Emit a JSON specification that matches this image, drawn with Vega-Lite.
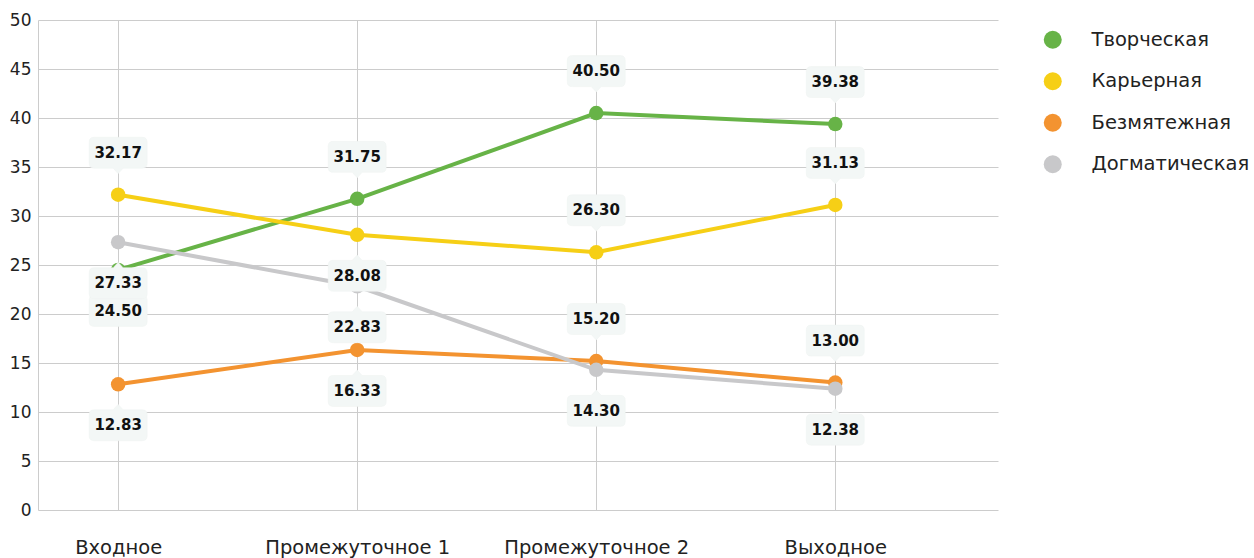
{
  "$schema": "https://vega.github.io/schema/vega-lite/v6.json",
  "width": 960,
  "height": 490,
  "autosize": {"type": "none"},
  "padding": {"left": 38, "top": 20, "right": 256, "bottom": 48},
  "background": "white",
  "config": {
    "view": {"stroke": null},
    "font": "DejaVu Sans",
    "axis": {"labelFont": "DejaVu Sans", "labelColor": "#222222", "gridColor": "#cccccc", "gridWidth": 1, "ticks": false}
  },
  "data": {
    "values": [
      {"stage": "Входное", "series": "Творческая", "value": 24.50},
      {"stage": "Промежуточное 1", "series": "Творческая", "value": 31.75},
      {"stage": "Промежуточное 2", "series": "Творческая", "value": 40.50},
      {"stage": "Выходное", "series": "Творческая", "value": 39.38},
      {"stage": "Входное", "series": "Карьерная", "value": 32.17},
      {"stage": "Промежуточное 1", "series": "Карьерная", "value": 28.08},
      {"stage": "Промежуточное 2", "series": "Карьерная", "value": 26.30},
      {"stage": "Выходное", "series": "Карьерная", "value": 31.13},
      {"stage": "Входное", "series": "Безмятежная", "value": 12.83},
      {"stage": "Промежуточное 1", "series": "Безмятежная", "value": 16.33},
      {"stage": "Промежуточное 2", "series": "Безмятежная", "value": 15.20},
      {"stage": "Выходное", "series": "Безмятежная", "value": 13.00},
      {"stage": "Входное", "series": "Догматическая", "value": 27.33},
      {"stage": "Промежуточное 1", "series": "Догматическая", "value": 22.83},
      {"stage": "Промежуточное 2", "series": "Догматическая", "value": 14.30},
      {"stage": "Выходное", "series": "Догматическая", "value": 12.38}
    ]
  },
  "encoding": {
    "x": {
      "field": "stage", "type": "nominal", "sort": null,
      "scale": {"type": "point", "padding": 0.508, "align": 0.33},
      "axis": {"title": null, "labelAngle": 0, "labelFontSize": 19.5, "labelPadding": 28, "labelLimit": 0, "labelOverlap": false, "domain": false, "grid": true}
    },
    "y": {
      "field": "value", "type": "quantitative",
      "scale": {"domain": [0, 50]},
      "axis": {"title": null, "values": [0, 5, 10, 15, 20, 25, 30, 35, 40, 45, 50], "labelFontSize": 17, "labelPadding": 7, "domain": true, "domainColor": "#cccccc", "grid": true}
    },
    "color": {
      "field": "series", "type": "nominal",
      "scale": {"domain": ["Творческая", "Карьерная", "Безмятежная", "Догматическая"], "range": ["#67b347", "#f6cf16", "#f39330", "#c8c8ca"]},
      "legend": {"title": null, "orient": "right", "offset": 35, "padding": 10, "symbolType": "circle", "symbolSize": 324, "symbolOpacity": 1, "symbolStrokeWidth": 0, "labelFontSize": 19.5, "labelColor": "#222222", "labelOffset": 29, "labelLimit": 0, "rowPadding": 20.5, "labelFont": "DejaVu Sans"}
    }
  },
  "layer": [
    {"mark": {"type": "line", "strokeWidth": 4}},
    {"mark": {"type": "point", "filled": true, "size": 210, "opacity": 1}},
    {
      "transform": [{"filter": "(datum.series=='Карьерная' && datum.stage!='Промежуточное 1') || (datum.series=='Творческая' && datum.stage!='Входное') || (datum.series=='Безмятежная' && (datum.stage=='Промежуточное 2' || datum.stage=='Выходное'))"}],
      "mark": {"type": "point", "filled": true, "size": 3364, "yOffset": -42, "opacity": 1, "color": "#f3f7f6", "stroke": "#eef2f1", "strokeWidth": 0.5,
        "shape": "M-0.83,-0.534 L0.83,-0.534 Q1,-0.534 1,-0.364 L1,0.364 Q1,0.534 0.83,0.534 L0.17,0.534 L0,0.72 L-0.17,0.534 L-0.83,0.534 Q-1,0.534 -1,0.364 L-1,-0.364 Q-1,-0.534 -0.83,-0.534 Z"},
      "encoding": {"color": {"value": "#f3f7f6"}}
    },
    {
      "transform": [{"filter": "!((datum.series=='Карьерная' && datum.stage!='Промежуточное 1') || (datum.series=='Творческая' && datum.stage!='Входное') || (datum.series=='Безмятежная' && (datum.stage=='Промежуточное 2' || datum.stage=='Выходное')))"}],
      "mark": {"type": "point", "filled": true, "size": 3364, "yOffset": 41, "opacity": 1, "color": "#f3f7f6", "stroke": "#eef2f1", "strokeWidth": 0.5,
        "shape": "M-0.83,-0.534 L-0.17,-0.534 L0,-0.72 L0.17,-0.534 L0.83,-0.534 Q1,-0.534 1,-0.364 L1,0.364 Q1,0.534 0.83,0.534 L-0.83,0.534 Q-1,0.534 -1,0.364 L-1,-0.364 Q-1,-0.534 -0.83,-0.534 Z"},
      "encoding": {"color": {"value": "#f3f7f6"}}
    },
    {
      "transform": [{"filter": "(datum.series=='Карьерная' && datum.stage!='Промежуточное 1') || (datum.series=='Творческая' && datum.stage!='Входное') || (datum.series=='Безмятежная' && (datum.stage=='Промежуточное 2' || datum.stage=='Выходное'))"}],
      "mark": {"type": "text", "dy": -42, "fontSize": 15, "fontWeight": "bold", "baseline": "middle", "align": "center"},
      "encoding": {"text": {"field": "value", "format": ".2f"}, "color": {"value": "#111111"}}
    },
    {
      "transform": [{"filter": "!((datum.series=='Карьерная' && datum.stage!='Промежуточное 1') || (datum.series=='Творческая' && datum.stage!='Входное') || (datum.series=='Безмятежная' && (datum.stage=='Промежуточное 2' || datum.stage=='Выходное')))"}],
      "mark": {"type": "text", "dy": 41, "fontSize": 15, "fontWeight": "bold", "baseline": "middle", "align": "center"},
      "encoding": {"text": {"field": "value", "format": ".2f"}, "color": {"value": "#111111"}}
    }
  ]
}
